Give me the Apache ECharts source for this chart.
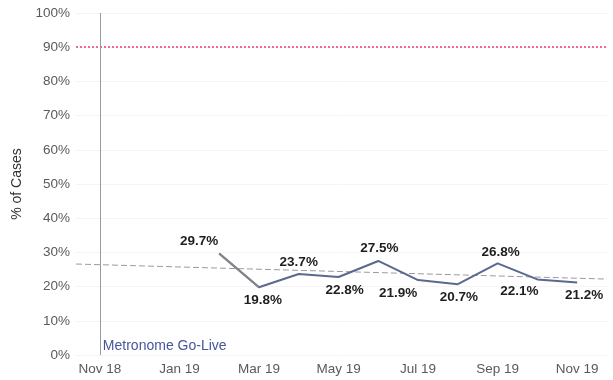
<!DOCTYPE html>
<html>
<head>
<meta charset="utf-8">
<script src="https://cdn.jsdelivr.net/npm/echarts@6/dist/echarts.min.js"></script>
<style>
  html, body { margin: 0; padding: 0; background: #ffffff; }
  #chart { width: 613px; height: 380px; }
</style>
</head>
<body>
<div id="chart"></div>
<script>
// Month index 0 = Nov 18 ... 12 = Nov 19
const monthLabels = ['Nov 18','Dec 18','Jan 19','Feb 19','Mar 19','Apr 19','May 19',
                     'Jun 19','Jul 19','Aug 19','Sep 19','Oct 19','Nov 19'];
const tickMonths = [0, 2, 4, 6, 8, 10, 12];

// Monthly % of cases (Feb 19 .. Nov 19)
const caseMonths = [3, 4, 5, 6, 7, 8, 9, 10, 11, 12];
const casePct    = [29.7, 19.8, 23.7, 22.8, 27.5, 21.9, 20.7, 26.8, 22.1, 21.2];

// Linear trend end points
const trendMonths = [-0.6, 12.75];
const trendPct    = [26.6, 22.2];

const targetPct = 90;
const goLiveMonth = 0;

const font = '"Liberation Sans", Arial, sans-serif';

// label placement per point: [position, dx, dy]
const labelPlace = [
  ['top', -20, 1], ['bottom', 4, 0], ['top', 0, 1], ['bottom', 6, 0], ['top', 1, 0],
  ['bottom', -20, 0], ['bottom', 1, 0], ['top', 3, 2], ['bottom', -18, -1], ['bottom', 7, 0]
];

const pts = caseMonths.map((m, i) => ({
  value: [m, casePct[i]],
  label: {
    show: true,
    position: labelPlace[i][0],
    offset: [labelPlace[i][1], labelPlace[i][2]],
    formatter: casePct[i].toFixed(1) + '%'
  }
}));

const chart = echarts.init(document.getElementById('chart'));
chart.setOption({
  animation: false,
  textStyle: { fontFamily: font },
  grid: { left: 76, right: 6, top: 13, bottom: 25 },
  xAxis: {
    type: 'value',
    min: trendMonths[0],
    max: trendMonths[1],
    axisLine: { show: false },
    axisTick: { show: false },
    splitLine: { show: false },
    axisLabel: {
      customValues: tickMonths,
      formatter: v => monthLabels[Math.round(v)] || '',
      color: '#5a5a5a',
      fontSize: 13.5,
      margin: 7,
      fontFamily: font
    }
  },
  yAxis: {
    type: 'value',
    min: 0,
    max: 100,
    interval: 10,
    name: '% of Cases',
    nameLocation: 'middle',
    nameGap: 41,
    nameTextStyle: { color: '#333', fontSize: 14, fontFamily: font },
    axisLine: { show: false },
    axisTick: { show: false },
    splitLine: { show: true, lineStyle: { color: '#f4f4f4', width: 1 } },
    axisLabel: {
      formatter: v => v + '%',
      color: '#5a5a5a',
      fontSize: 13.5,
      margin: 6,
      fontFamily: font
    }
  },
  series: [
    {
      type: 'line',
      name: 'trend',
      data: trendMonths.map((m, i) => [m, trendPct[i]]),
      symbol: 'none',
      lineStyle: { color: '#9a9a9a', width: 1, type: [6, 3] },
      z: 1,
      silent: true,
      markLine: {
        silent: true,
        symbol: 'none',
        label: { show: false },
        data: [
          { yAxis: targetPct, lineStyle: { color: '#ef6a96', width: 2, type: [2, 2] } },
          { xAxis: goLiveMonth, lineStyle: { color: '#9a9a9a', width: 1, type: 'solid' } }
        ]
      }
    },
    {
      type: 'line',
      name: 'cases',
      data: pts,
      symbol: 'circle',
      showSymbol: true,
      showAllSymbol: true,
      symbolSize: 2,
      itemStyle: { color: 'rgba(0,0,0,0)', borderWidth: 0 },
      lineStyle: { color: '#5a6990', width: 2 },
      label: {
        show: true,
        color: '#1e1e1e',
        fontWeight: 'bold',
        fontSize: 13.5,
        fontFamily: font
      },
      z: 3
    },
    {
      // opening segment drawn in grey over the main line
      type: 'line',
      name: 'first',
      data: [[caseMonths[0], casePct[0]], [caseMonths[1], casePct[1]]],
      symbol: 'none',
      lineStyle: { color: '#858585', width: 2 },
      z: 4
    }
  ]
});

// Go-live caption anchored to the marker line at the bottom of the plot
const p = chart.convertToPixel({ gridIndex: 0 }, [goLiveMonth, 0]);
chart.setOption({
  graphic: [{
    type: 'text',
    left: p[0] + 3,
    top: p[1] - 16,
    style: { text: 'Metronome Go-Live', fill: '#46569a', font: '14px ' + font }
  }]
});
</script>
</body>
</html>
